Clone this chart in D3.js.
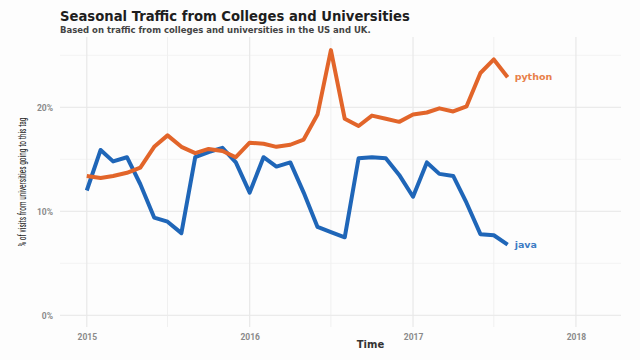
<!DOCTYPE html>
<html><head><meta charset="utf-8">
<script src="https://cdn.jsdelivr.net/npm/d3@7"></script>
<style>body{margin:0;background:#fdfdfd;} svg{display:block;}</style>
</head><body>
<svg id="c" width="640" height="360"></svg>
<script>
const startMonth = "2015-01";
const java = [12.0,15.9,14.8,15.2,12.6,9.4,9.0,7.9,15.2,15.7,16.1,14.7,11.8,15.2,14.3,14.7,11.8,8.5,8.0,7.5,15.1,15.2,15.1,13.5,11.4,14.7,13.6,13.4,10.8,7.8,7.7,6.8];
const python = [13.4,13.2,13.4,13.7,14.2,16.2,17.3,16.2,15.6,16.0,15.8,15.2,16.6,16.5,16.2,16.4,16.9,19.3,25.5,18.9,18.2,19.2,18.9,18.6,19.3,19.5,19.9,19.6,20.1,23.3,24.6,22.9];
const yTicks = [0,10,20];
const yTickLabels = ["0%","10%","20%"];
const xTicks = [2015,2016,2017,2018];
const seriesNames = ["java","python"];
const colors = {java:"#1f66b8", python:"#e2652a"};
const labelColors = {java:"#3d7cc4", python:"#e8804a"};

const svg = d3.select("#c");
const L=60, R=621, T=37, B=327;
const parse = d3.timeParse("%Y-%m");
const d0 = parse(startMonth);
const dates = java.map((_,i)=>d3.timeMonth.offset(d0,i));
const yr = y=>new Date(y,0,1);
const x = d3.scaleTime().domain([new Date(2014,10,2), new Date(2018,3,12)]).range([L,R]);
const y = d3.scaleLinear().domain([-1.125, 26.76]).range([B,T]);

const g = svg.append("g");
const minorY = [5,15,25];
g.selectAll(".my").data(minorY).enter().append("line")
 .attr("x1",L).attr("x2",R).attr("y1",d=>y(d)).attr("y2",d=>y(d))
 .attr("stroke","#f3f3f3").attr("stroke-width",1);
const minorX = [2015,2016,2017].map(v=>new Date(v,6,1));
g.selectAll(".mx").data(minorX).enter().append("line")
 .attr("y1",T).attr("y2",B).attr("x1",d=>x(d)).attr("x2",d=>x(d))
 .attr("stroke","#f0f0f0").attr("stroke-width",1);
g.selectAll(".gy").data(yTicks).enter().append("line")
 .attr("x1",L).attr("x2",R).attr("y1",d=>y(d)).attr("y2",d=>y(d))
 .attr("stroke","#ebebeb").attr("stroke-width",1.2);
g.selectAll(".gx").data(xTicks).enter().append("line")
 .attr("y1",T).attr("y2",B).attr("x1",d=>x(yr(d))).attr("x2",d=>x(yr(d)))
 .attr("stroke","#e8e8e8").attr("stroke-width",1.2);

const yAxis = d3.axisLeft(y).tickValues(yTicks).tickFormat((d,i)=>yTickLabels[i]).tickSize(0).tickPadding(7);
svg.append("g").attr("transform",`translate(${L},0)`).call(yAxis)
 .call(s=>s.select(".domain").remove())
 .selectAll("text").attr("fill","#8a8a8a").attr("font-family","Roboto, sans-serif").attr("font-size","8.5px").attr("font-weight","bold");
const xAxis = d3.axisBottom(x).tickValues(xTicks.map(yr)).tickFormat(d3.timeFormat("%Y")).tickSize(0).tickPadding(7);
svg.append("g").attr("transform",`translate(0,${B})`).call(xAxis)
 .call(s=>s.select(".domain").remove())
 .selectAll("text").attr("fill","#8a8a8a").attr("font-family","Roboto, sans-serif").attr("font-size","8.5px").attr("font-weight","bold");

const line = d3.line().x((d,i)=>x(dates[i])).y(d=>y(d));
const data = {java, python};
seriesNames.forEach(n=>{
  svg.append("path").datum(data[n]).attr("d",line).attr("fill","none")
   .attr("stroke",colors[n]).attr("stroke-width",4).attr("stroke-linejoin","round");
  const last = data[n].length-1;
  svg.append("text").attr("x",x(dates[last])+7).attr("y",y(data[n][last])+3)
   .attr("fill",labelColors[n]).attr("font-family","'DejaVu Sans', sans-serif").attr("font-size","9.5px").attr("font-weight","bold")
   .text(n);
});

svg.append("text").attr("x",60).attr("y",21).attr("font-family","'DejaVu Sans', sans-serif").attr("font-weight","bold")
 .attr("font-size","13.2px").attr("fill","#1e1e1e").text("Seasonal Traffic from Colleges and Universities");
svg.append("text").attr("x",60).attr("y",32.5).attr("font-family","'DejaVu Sans', sans-serif").attr("font-weight","bold")
 .attr("font-size","8.5px").attr("fill","#444").text("Based on traffic from colleges and universities in the US and UK.");
svg.append("text").attr("x",(L+R)/2+30).attr("y",348).attr("text-anchor","middle").attr("font-family","'DejaVu Sans', sans-serif")
 .attr("font-weight","bold").attr("font-size","10px").attr("fill","#333").text("Time");
svg.append("text").attr("transform","translate(26,182) rotate(-90)").attr("text-anchor","middle")
 .attr("font-family","'Liberation Sans Narrow', 'Roboto Condensed', Roboto, sans-serif").attr("font-size","11px").attr("fill","#222")
 .attr("textLength",129).attr("lengthAdjust","spacingAndGlyphs")
 .text("% of visits from universities going to this tag");
</script>
</body></html>
